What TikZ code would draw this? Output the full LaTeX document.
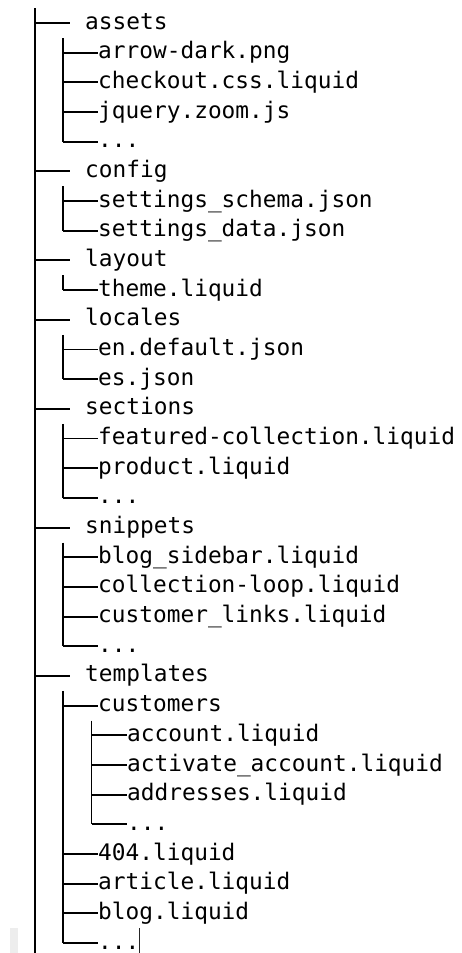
\documentclass[tikz,border=0pt]{standalone}
\usepackage{fontspec}
\newfontfamily\treefont{DejaVu Sans Mono}

% x positions per depth: trunk, end of branch, start of text
\def\trA{35}  \def\bxA{70}  \def\txA{85}
\def\trB{63}  \def\bxB{98}  \def\txB{98}
\def\trC{91.5}\def\bxC{127} \def\txC{127}
\def\rowgap{29.68}

\tikzset{
  treeline/.style={line width=1.9pt, draw=black},
  leaf/.style={font=\treefont\fontsize{22.8}{27}\selectfont, anchor=base west,
               inner sep=0pt, text=black},
}

% one entry: name, parent trunk coordinate, row, depth letter, text
\newcommand\treeitem[5]{%
  \coordinate (#1-j) at (\csname bx#4\endcsname, {23+(#3-1)*\rowgap});
  \node[leaf] (#1) at (\csname tx#4\endcsname, {29+(#3-1)*\rowgap}) {#5};
  \draw[treeline] (#2 |- #1-j) -- (#1-j);
}
% trunk of a folder: starts just below the folder row, ends at its last child
\newcommand\trunk[3]{%
  \coordinate (#1-t) at (\csname tr#2\endcsname, {38+(#3-1)*\rowgap});
}

\begin{document}
\begin{tikzpicture}[x=1pt, y=-1pt]
  \useasboundingbox (0,0) rectangle (461,953);

  % root trunk
  \coordinate (root) at (\trA, 8);
  \coordinate (root-end) at (\trA, 953);
  \draw[treeline] (root) -- (root-end);

  % assets
  \treeitem{assets}{root}{1}{A}{assets}
  \trunk{assets}{B}{1}
  \treeitem{arrowdark}{assets-t}{2}{B}{arrow-dark.png}
  \treeitem{checkout}{assets-t}{3}{B}{checkout.css.liquid}
  \treeitem{jquery}{assets-t}{4}{B}{jquery.zoom.js}
  \treeitem{assetsmore}{assets-t}{5}{B}{...}
  \draw[treeline] (assets-t) -- (assets-t |- assetsmore-j);

  % config
  \treeitem{config}{root}{6}{A}{config}
  \trunk{config}{B}{6}
  \treeitem{schema}{config-t}{7}{B}{settings\_schema.json}
  \treeitem{data}{config-t}{8}{B}{settings\_data.json}
  \draw[treeline] (config-t) -- (config-t |- data-j);

  % layout
  \treeitem{layout}{root}{9}{A}{layout}
  \trunk{layout}{B}{9}
  \treeitem{theme}{layout-t}{10}{B}{theme.liquid}
  \draw[treeline] (layout-t) -- (layout-t |- theme-j);

  % locales
  \treeitem{locales}{root}{11}{A}{locales}
  \trunk{locales}{B}{11}
  \treeitem{en}{locales-t}{12}{B}{en.default.json}
  \treeitem{es}{locales-t}{13}{B}{es.json}
  \draw[treeline] (locales-t) -- (locales-t |- es-j);

  % sections
  \treeitem{sections}{root}{14}{A}{sections}
  \trunk{sections}{B}{14}
  \treeitem{featured}{sections-t}{15}{B}{featured-collection.liquid}
  \treeitem{product}{sections-t}{16}{B}{product.liquid}
  \treeitem{sectionsmore}{sections-t}{17}{B}{...}
  \draw[treeline] (sections-t) -- (sections-t |- sectionsmore-j);

  % snippets
  \treeitem{snippets}{root}{18}{A}{snippets}
  \trunk{snippets}{B}{18}
  \treeitem{sidebar}{snippets-t}{19}{B}{blog\_sidebar.liquid}
  \treeitem{loop}{snippets-t}{20}{B}{collection-loop.liquid}
  \treeitem{links}{snippets-t}{21}{B}{customer\_links.liquid}
  \treeitem{snippetsmore}{snippets-t}{22}{B}{...}
  \draw[treeline] (snippets-t) -- (snippets-t |- snippetsmore-j);

  % templates
  \treeitem{templates}{root}{23}{A}{templates}
  \trunk{templates}{B}{23}
  \treeitem{customers}{templates-t}{24}{B}{customers}
  \trunk{customers}{C}{24}
  \treeitem{account}{customers-t}{25}{C}{account.liquid}
  \treeitem{activate}{customers-t}{26}{C}{activate\_account.liquid}
  \treeitem{addresses}{customers-t}{27}{C}{addresses.liquid}
  \treeitem{customersmore}{customers-t}{28}{C}{...}
  \draw[treeline] (customers-t) -- (customers-t |- customersmore-j);
  \treeitem{notfound}{templates-t}{29}{B}{404.liquid}
  \treeitem{article}{templates-t}{30}{B}{article.liquid}
  \treeitem{blog}{templates-t}{31}{B}{blog.liquid}
  \treeitem{templatesmore}{templates-t}{32}{B}{...}
  \draw[treeline] (templates-t) -- (templates-t |- templatesmore-j);

  % text cursor after the last entry, and the faint strip at the lower left
  \coordinate (cursor-top) at (139, 928);
  \draw[line width=0.9pt, black!85] (cursor-top) -- (cursor-top |- root-end);
  \fill[black!7] (10, 928) rectangle (18, 953);
\end{tikzpicture}
\end{document}
